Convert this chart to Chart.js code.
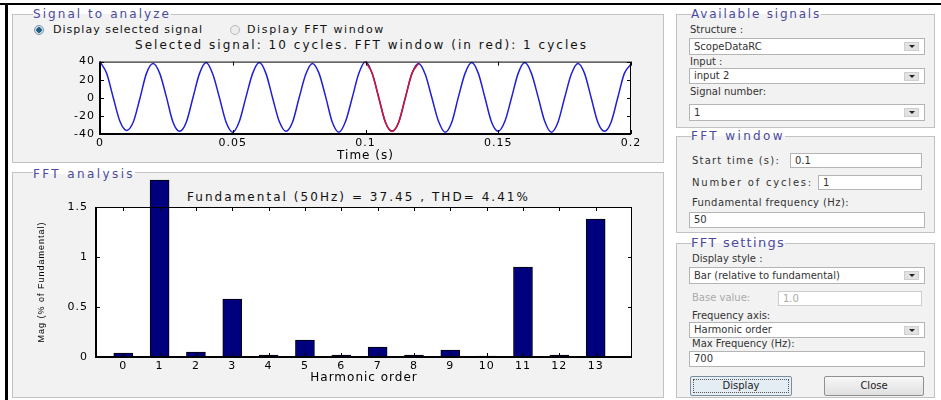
<!DOCTYPE html>
<html>
<head>
<meta charset="utf-8">
<script src="https://cdn.jsdelivr.net/npm/chart.js@4.4.1/dist/chart.umd.min.js"></script>
<style>
body { margin: 0; width: 941px; height: 400px; overflow: hidden; background: #fff; position: relative;
       font-family: 'DejaVu Sans', sans-serif; color: #222; }
.abs { position: absolute; white-space: nowrap; }
.frame { position: absolute; border: 1px solid #c2c2c2; background: #f2f2f2; box-sizing: border-box; }
.ptitle { position: absolute; white-space: nowrap; color: #4a4aa0; font-size: 12px; line-height: 14px;
          background: linear-gradient(#fff 50%, #f2f2f2 50%); }
.txt { position: absolute; white-space: nowrap; font-size: 12px; line-height: 14px; color: #111; }
.lbl { position: absolute; white-space: nowrap; font-size: 10px; line-height: 12px; color: #333; }
.box { position: absolute; background: #fff; border: 1px solid #b4b4b4; box-sizing: border-box;
       font-size: 10px; padding-left: 4px; color: #333; white-space: nowrap; }
.arrow { position: absolute; right: 5px; top: 3px; width: 15px; height: 9px; background: #e2e2e2;
         border: 1px solid #cfcfcf; box-sizing: border-box; }
.arrow::after { content: ''; position: absolute; left: 4px; top: 2px; border-left: 3px solid transparent;
                border-right: 3px solid transparent; border-top: 3px solid #222; }
.radio { position: absolute; width: 10px; height: 10px; border-radius: 50%; box-sizing: border-box; }
.btn { position: absolute; box-sizing: border-box; font-size: 10px; text-align: center; color: #222; border-radius: 2px; }
.plot { position: absolute; }
</style>
</head>
<body>
<div class="abs" style="left:0;top:3px;width:941px;height:2px;background:#000"></div>
<div class="abs" style="left:5px;top:3px;width:3px;height:397px;background:#000"></div>

<!-- left panels -->
<div class="frame" style="left:12px;top:14px;width:652px;height:149px"></div>
<div class="ptitle fit" data-w="138" style="left:33px;top:7px">Signal to analyze</div>
<div class="radio" style="left:34px;top:25px;border:1px solid #7d93a6;background:radial-gradient(circle,#1f5f82 0 2.5px,#cfe0ea 3px)"></div>
<div class="txt fit" data-w="150" style="left:53px;top:23px;font-size:11px">Display selected signal</div>
<div class="radio" style="left:230px;top:25px;border:1px solid #b8b8b8;background:#ececec"></div>
<div class="txt fit" data-w="138" style="left:247px;top:23px;font-size:11px">Display FFT window</div>
<div class="txt fit" data-w="453" style="left:135px;top:38px">Selected signal: 10 cycles. FFT window (in red): 1 cycles</div>

<div class="frame" style="left:12px;top:172px;width:652px;height:226px"></div>
<div class="ptitle fit" data-w="102" style="left:33px;top:167px">FFT analysis</div>
<div class="txt fit" data-w="343" style="left:187px;top:190px">Fundamental (50Hz) = 37.45 , THD= 4.41%</div>

<div class="plot" style="left:20px;top:50px;width:640px;height:112px"><canvas id="sigChart"></canvas></div>
<div class="plot" style="left:20px;top:172px;width:640px;height:215px"><canvas id="fftChart"></canvas></div>

<!-- right panels -->
<div class="frame" style="left:676px;top:14px;width:259px;height:114px"></div>
<div class="ptitle fit" data-w="130" style="left:691px;top:7px">Available signals</div>
<div class="lbl" style="left:690px;top:24px">Structure :</div>
<div class="box" style="left:689px;top:38px;width:236px;height:17px;line-height:15px">ScopeDataRC<div class="arrow"></div></div>
<div class="lbl" style="left:690px;top:56px">Input :</div>
<div class="box" style="left:689px;top:68px;width:236px;height:16px;line-height:14px">input 2<div class="arrow"></div></div>
<div class="lbl" style="left:690px;top:86px">Signal number:</div>
<div class="box" style="left:689px;top:104px;width:236px;height:17px;line-height:15px">1<div class="arrow"></div></div>

<div class="frame" style="left:676px;top:136px;width:259px;height:97px"></div>
<div class="ptitle fit" data-w="94" style="left:691px;top:129px">FFT window</div>
<div class="lbl fit" data-w="88" style="left:692px;top:155px">Start time (s):</div>
<div class="box" style="left:790px;top:153px;width:132px;height:15px;line-height:13px">0.1</div>
<div class="lbl fit" data-w="121" style="left:692px;top:177px">Number of cycles:</div>
<div class="box" style="left:818px;top:175px;width:104px;height:15px;line-height:13px">1</div>
<div class="lbl fit" data-w="157" style="left:692px;top:197px">Fundamental frequency (Hz):</div>
<div class="box" style="left:689px;top:212px;width:236px;height:16px;line-height:14px">50</div>

<div class="frame" style="left:676px;top:243px;width:259px;height:155px"></div>
<div class="ptitle fit" data-w="94" style="left:691px;top:236px;font-size:13px">FFT settings</div>
<div class="lbl" style="left:692px;top:253px">Display style :</div>
<div class="box" style="left:689px;top:267px;width:236px;height:17px;line-height:15px">Bar (relative to fundamental)<div class="arrow"></div></div>
<div class="lbl" style="left:692px;top:292px;color:#aaa">Base value:</div>
<div class="box" style="left:778px;top:291px;width:144px;height:15px;line-height:13px;color:#aaa;border-color:#cdcdcd">1.0</div>
<div class="lbl" style="left:692px;top:310px">Frequency axis:</div>
<div class="box" style="left:689px;top:322px;width:236px;height:16px;line-height:14px">Harmonic order<div class="arrow"></div></div>
<div class="lbl" style="left:692px;top:338px">Max Frequency (Hz):</div>
<div class="box" style="left:689px;top:351px;width:236px;height:16px;line-height:14px">700</div>
<div class="btn" style="left:690px;top:376px;width:102px;height:20px;line-height:18px;border:1px solid #7b8ea0;background:#e4edf4;outline:1px dotted #555;outline-offset:-4px">Display</div>
<div class="btn" style="left:824px;top:376px;width:100px;height:20px;line-height:18px;border:1px solid #909090;background:linear-gradient(#f7f7f7,#e0e0e0)">Close</div>

<script>
// signal samples (2.5 ms apart)
const sigTime = [
    0, 0.0025, 0.005, 0.0075, 0.01, 0.0125, 0.015, 0.0175,
    0.02, 0.0225, 0.025, 0.0275, 0.03, 0.0325, 0.035, 0.0375,
    0.04, 0.0425, 0.045, 0.0475, 0.05, 0.0525, 0.055, 0.0575,
    0.06, 0.0625, 0.065, 0.0675, 0.07, 0.0725, 0.075, 0.0775,
    0.08, 0.0825, 0.085, 0.0875, 0.09, 0.0925, 0.095, 0.0975,
    0.1, 0.1025, 0.105, 0.1075, 0.11, 0.1125, 0.115, 0.1175,
    0.12, 0.1225, 0.125, 0.1275, 0.13, 0.1325, 0.135, 0.1375,
    0.14, 0.1425, 0.145, 0.1475, 0.15, 0.1525, 0.155, 0.1575,
    0.16, 0.1625, 0.165, 0.1675, 0.17, 0.1725, 0.175, 0.1775,
    0.18, 0.1825, 0.185, 0.1875, 0.19, 0.1925, 0.195, 0.1975,
    0.2
];
const sigValue = [
    40, 27, 0, -26, -36, -27, -1, 27,
    38, 27, 1, -27, -37, -27, 0, 27,
    39, 26, 0, -27, -38, -26, 1, 27,
    39, 27, 0, -26, -37, -27, 0, 26,
    38, 27, 1, -27, -38, -26, 0, 27,
    40, 27, 0, -27, -37, -27, 0, 27,
    38, 26, 0, -26, -38, -27, 1, 27,
    39, 27, 0, -27, -37, -26, 0, 27,
    39, 27, 1, -26, -38, -27, 0, 26,
    38, 27, 0, -27, -37, -27, 0, 27,
    37
];
const timeTicks = [0, 0.05, 0.1, 0.15, 0.2];
const signalTicks = [-40, -20, 0, 20, 40];
const fftStart = 0.1;
const fftCycles = 1;
const fundamentalHz = 50;

// FFT bars
const harmonicOrder = [0, 1, 2, 3, 4, 5, 6, 7, 8, 9, 10, 11, 12, 13];
const harmonicMag = [0.04, 1.77, 0.05, 0.58, 0.02, 0.17, 0.02, 0.10, 0.02, 0.07, 0.01, 0.90, 0.02, 1.38];
const magTicks = [0, 0.5, 1, 1.5];

// stretch html labels to the widths seen in the picture
document.querySelectorAll('.fit').forEach(el => {
    el.style.letterSpacing = '0px';
    const natural = el.getBoundingClientRect().width;
    el.style.letterSpacing = ((+el.dataset.w - natural) / el.textContent.length) + 'px';
});

Chart.defaults.font.family = "'DejaVu Sans', sans-serif";
Chart.defaults.color = '#000';

const spacing = {
    id: 'spacing',
    beforeUpdate(chart) { chart.ctx.letterSpacing = '1px'; },
    beforeDraw(chart) { chart.ctx.letterSpacing = '1px'; }
};

// white axes box with inward ticks on all four sides
const matlabAxes = {
    id: 'matlabAxes',
    beforeDraw(chart) {
        const a = chart.chartArea, ctx = chart.ctx;
        ctx.save();
        ctx.fillStyle = '#fff';
        ctx.fillRect(a.left, a.top, a.right - a.left, a.bottom - a.top);
        ctx.restore();
    },
    afterDatasetsDraw(chart) {
        const a = chart.chartArea, ctx = chart.ctx, len = 4;
        const xs = chart.scales.x, ys = chart.scales.y;
        ctx.save();
        ctx.strokeStyle = '#000';
        ctx.lineWidth = 1;
        ctx.strokeRect(a.left + 0.5, a.top + 0.5, a.right - a.left - 1, a.bottom - a.top - 1);
        ctx.lineWidth = 2;
        ctx.beginPath();
        ctx.moveTo(a.left, a.top); ctx.lineTo(a.left, a.bottom); ctx.lineTo(a.right, a.bottom);
        ctx.stroke();
        ctx.lineWidth = 1;
        ctx.beginPath();
        xs.ticks.forEach(t => {
            const px = Math.round(xs.getPixelForValue(t.value)) + 0.5;
            ctx.moveTo(px, a.bottom); ctx.lineTo(px, a.bottom - len);
            ctx.moveTo(px, a.top); ctx.lineTo(px, a.top + len);
        });
        ys.ticks.forEach(t => {
            const py = Math.round(ys.getPixelForValue(t.value)) + 0.5;
            ctx.moveTo(a.left, py); ctx.lineTo(a.left + len, py);
            ctx.moveTo(a.right, py); ctx.lineTo(a.right - len, py);
        });
        ctx.stroke();
        ctx.restore();
    }
};

const sigPoints = sigTime.map((t, i) => ({ x: t, y: sigValue[i] }));
const fftEnd = fftStart + fftCycles / fundamentalHz;
const windowPoints = sigPoints.filter(p => p.x >= fftStart - 1e-9 && p.x <= fftEnd + 1e-9);

new Chart(document.getElementById('sigChart'), {
    type: 'line',
    data: {
        datasets: [
            { data: windowPoints, borderColor: '#d2142e' },
            { data: sigPoints, borderColor: '#1f1fd6' }
        ]
    },
    options: {
        responsive: true,
        maintainAspectRatio: false,
        animation: false,
        layout: { padding: { left: 0, top: 6, right: 29, bottom: 0 } },
        elements: {
            point: { radius: 0 },
            line: { borderWidth: 1.5, cubicInterpolationMode: 'monotone' }
        },
        plugins: { legend: { display: false }, tooltip: { enabled: false } },
        scales: {
            x: {
                type: 'linear',
                min: 0,
                max: 0.2,
                afterBuildTicks: s => { s.ticks = timeTicks.map(v => ({ value: v })); },
                afterFit: s => { s.height = 28; },
                grid: { display: false, drawTicks: false },
                border: { display: false },
                ticks: { padding: 3, font: { size: 11 }, maxRotation: 0, autoSkip: false, callback: v => String(v) },
                title: { display: true, text: 'Time (s)', padding: { top: 0, bottom: -1 }, font: { size: 12 } }
            },
            y: {
                min: -40,
                max: 40,
                afterBuildTicks: s => { s.ticks = signalTicks.map(v => ({ value: v })); },
                afterFit: s => { s.width = 80; },
                grid: { display: false, drawTicks: false },
                border: { display: false },
                ticks: { padding: 5, font: { size: 11 }, callback: v => String(v) }
            }
        }
    },
    plugins: [spacing, matlabAxes]
});

new Chart(document.getElementById('fftChart'), {
    type: 'bar',
    data: {
        datasets: [{
            data: harmonicOrder.map((h, i) => ({ x: h, y: harmonicMag[i] })),
            backgroundColor: '#00007f',
            borderColor: '#000',
            borderWidth: 1,
            barThickness: 19,
            clip: false
        }]
    },
    options: {
        responsive: true,
        maintainAspectRatio: false,
        animation: false,
        layout: { padding: { left: 0, top: 35, right: 28, bottom: 0 } },
        plugins: { legend: { display: false }, tooltip: { enabled: false } },
        scales: {
            x: {
                type: 'linear',
                offset: false,
                min: -0.75,
                max: 14,
                afterBuildTicks: s => { s.ticks = harmonicOrder.map(v => ({ value: v })); },
                afterFit: s => { s.height = 30; },
                grid: { display: false, drawTicks: false },
                border: { display: false },
                ticks: { padding: 3, font: { size: 11 }, maxRotation: 0, autoSkip: false, callback: v => String(v) },
                title: { display: true, text: 'Harmonic order', padding: { top: 0, bottom: 2 }, font: { size: 12 } }
            },
            y: {
                min: 0,
                max: 1.5,
                afterBuildTicks: s => { s.ticks = magTicks.map(v => ({ value: v })); },
                afterFit: s => { s.width = 76; },
                grid: { display: false, drawTicks: false },
                border: { display: false },
                ticks: { padding: 8, font: { size: 11 }, callback: v => String(v) },
                title: {
                    display: true,
                    text: 'Mag (% of Fundamental)',
                    padding: { top: 16, bottom: 0 },
                    font: { family: "'Liberation Sans', sans-serif", size: 9 }
                }
            }
        }
    },
    plugins: [spacing, matlabAxes]
});
</script>
</body>
</html>
